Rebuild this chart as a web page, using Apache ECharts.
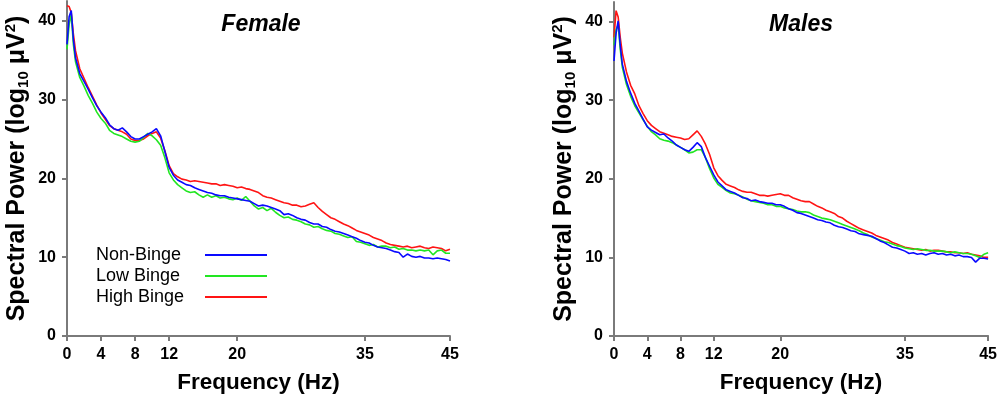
<!DOCTYPE html>
<html>
<head>
<meta charset="utf-8">
<script src="https://cdn.jsdelivr.net/npm/echarts@6/dist/echarts.min.js"></script>
<style>html,body{margin:0;padding:0;background:#fff;}#c{width:1000px;height:399px;}</style>
</head>
<body>
<div id="c"></div>
<script>
// Frequencies (Hz)
const freq = [0,0.25,0.5,0.75,1,1.5,2,2.5,3,3.5,4,4.5,5,5.5,6,6.5,7,7.5,8,8.5,9,9.5,10,10.5,11,11.5,12,12.5,13,13.5,14,14.5,15,15.5,16,16.5,17,17.5,18,18.5,19,19.5,20,20.5,21,21.5,22,22.5,23,23.5,24,24.5,25,25.5,26,26.5,27,27.5,28,28.5,29,29.5,30,30.5,31,31.5,32,32.5,33,33.5,34,34.5,35,35.5,36,36.5,37,37.5,38,38.5,39,39.5,40,40.5,41,41.5,42,42.5,43,43.5,44,44.5,45];

const seriesNames = ['Non-Binge','Low Binge','High Binge'];
const panelTitles = ['Female','Males'];
const xTicks = [0,4,8,12,20,35,45];
const yTicks = [0,10,20,30,40];

// Female
const femaleNonBinge = [37.0,40.5,41.3,37.6,35.3,33.3,32.3,31.3,30.2,29.2,28.4,27.7,26.8,26.3,26.1,26.4,25.9,25.3,25.0,25.0,25.3,25.6,25.9,26.3,25.4,23.4,21.4,20.4,19.8,19.5,19.2,19.1,18.8,18.6,18.4,18.2,18.1,17.9,17.8,17.8,17.6,17.5,17.4,17.3,17.2,17.1,16.8,16.5,16.6,16.5,16.3,16.1,15.9,15.4,15.5,15.3,15.0,14.8,14.7,14.4,14.2,14.2,13.9,13.8,13.5,13.3,13.2,13.0,12.8,12.6,12.4,12.1,11.9,11.8,11.5,11.3,11.2,11.1,10.9,10.7,10.6,10.0,10.4,10.1,10.0,10.1,9.9,9.9,9.8,9.9,9.8,9.7,9.5];
const femaleLowBinge = [36.4,39.5,40.8,37.0,34.8,32.8,31.7,30.5,29.5,28.4,27.6,27.0,26.1,25.7,25.5,25.3,25.0,24.7,24.6,24.7,25.2,25.7,25.4,24.9,24.2,22.6,20.7,19.8,19.2,18.8,18.4,18.2,18.3,17.9,17.6,17.9,17.6,17.8,17.5,17.6,17.4,17.3,17.5,17.2,17.7,17.1,16.5,16.1,16.3,15.9,16.2,15.7,15.3,15.0,15.1,14.8,14.7,14.5,14.2,14.1,13.8,13.9,13.6,13.4,13.3,13.0,12.9,12.7,12.5,12.6,12.0,11.9,11.7,11.5,11.6,11.3,11.4,11.4,11.2,11.3,11.0,11.1,10.9,10.9,10.8,10.9,10.8,10.9,10.3,10.8,10.9,10.5,10.5];
const femaleHighBinge = [41.9,41.8,41.0,38.3,36.2,33.9,32.7,31.5,30.4,29.3,28.3,27.5,26.7,26.3,26.1,25.9,25.6,25.0,24.8,24.8,25.0,25.4,25.7,25.9,25.1,23.5,21.6,20.6,20.2,19.9,19.8,19.6,19.7,19.6,19.5,19.4,19.3,19.3,19.1,19.2,19.1,19.0,18.8,18.9,18.7,18.6,18.4,18.2,17.8,17.6,17.5,17.3,17.1,16.9,16.8,16.6,16.6,16.4,16.5,16.7,16.9,16.3,15.8,15.4,15.0,14.8,14.5,14.2,14.0,13.7,13.4,13.2,13.0,12.8,12.5,12.3,12.1,11.8,11.6,11.5,11.4,11.3,11.4,11.2,11.3,11.4,11.2,11.1,11.3,11.2,11.1,10.8,11.0];

// Males
const maleNonBinge = [35.0,38.5,40.1,37.0,34.6,32.4,30.9,29.6,28.6,27.6,26.6,26.2,25.9,25.6,25.7,25.2,24.8,24.3,24.0,23.7,23.5,24.0,24.6,24.1,22.7,21.6,20.5,19.6,19.1,18.6,18.4,18.2,17.9,17.6,17.5,17.2,17.3,17.1,17.0,16.9,16.9,16.7,16.7,16.5,16.2,16.0,15.7,15.6,15.4,15.2,15.0,14.8,14.7,14.5,14.4,14.1,13.9,13.8,13.6,13.4,13.3,13.0,12.9,12.8,12.7,12.4,12.1,11.9,11.6,11.3,11.2,11.0,10.8,10.5,10.6,10.4,10.5,10.3,10.5,10.6,10.4,10.5,10.3,10.4,10.2,10.3,10.1,10.1,10.0,9.4,9.9,9.9,9.8];
const maleLowBinge = [37.0,39.0,39.6,36.5,34.2,32.0,30.5,29.3,28.4,27.5,26.7,26.0,25.6,25.1,24.9,24.8,24.6,24.3,24.0,23.7,23.3,23.4,23.7,23.7,22.7,21.3,20.1,19.3,18.9,18.5,18.2,18.1,17.9,17.7,17.4,17.2,17.1,17.0,16.9,16.7,16.7,16.5,16.5,16.3,16.2,16.1,15.9,15.8,15.8,15.7,15.4,15.2,15.0,14.9,14.8,14.6,14.4,14.2,14.0,13.8,13.6,13.4,13.1,12.9,12.6,12.4,12.2,12.0,11.9,11.7,11.5,11.4,11.2,11.1,11.0,11.1,11.0,10.9,10.9,10.8,10.8,10.8,10.7,10.6,10.7,10.6,10.5,10.5,10.4,10.2,10.0,10.4,10.6];
const maleHighBinge = [38.0,41.4,40.6,38.0,36.0,33.6,31.9,30.8,29.3,28.3,27.4,26.8,26.4,26.0,25.8,25.6,25.4,25.3,25.2,25.0,25.1,25.6,26.1,25.4,24.4,23.1,21.4,20.4,19.8,19.3,19.1,18.9,18.6,18.4,18.3,18.3,18.1,17.9,17.9,17.8,17.9,18.0,18.1,17.9,17.9,17.6,17.4,17.2,17.1,17.1,16.8,16.5,16.3,16.0,15.8,15.6,15.2,15.0,14.6,14.3,14.0,13.7,13.5,13.3,13.1,12.8,12.6,12.4,12.2,11.9,11.7,11.5,11.3,11.2,11.1,11.0,10.9,11.0,10.8,10.9,10.9,10.8,10.7,10.7,10.6,10.6,10.5,10.6,10.4,10.3,10.2,10.0,10.0];

const colors = ['#0a0aff', '#22e622', '#ff1414'];
const FONT = "'Liberation Sans', Arial, sans-serif";
const axisGray = '#7a7a7a';

function pairs(arr) { return freq.map((f, i) => [f, arr[i]]); }

function xAxisCfg(gi) {
  return {
    gridIndex: gi, type: 'value', min: 0, max: 45,
    name: 'Frequency (Hz)', nameLocation: 'middle', nameGap: 35,
    nameTextStyle: { fontFamily: FONT, fontWeight: 'bold', fontSize: 22.5, color: '#000' },
    axisLine: { show: true, lineStyle: { color: axisGray, width: 2 } },
    axisTick: { show: true, length: 5, inside: false, customValues: xTicks, lineStyle: { color: axisGray, width: 2 } },
    axisLabel: { customValues: xTicks, margin: 11, fontFamily: FONT, fontWeight: 'bold', fontSize: 16, color: '#000' },
    splitLine: { show: false }
  };
}
function yAxisCfg(gi) {
  return {
    gridIndex: gi, type: 'value', min: 0, max: 42.5,
    name: '{a|Spectral Power (log}{s|10}{a| μV}{p|2}{a|)}',
    nameLocation: 'middle', nameGap: 36, nameRotate: 90,
    nameTextStyle: {
      fontFamily: FONT, fontWeight: 'bold', fontSize: 25, color: '#000', lineHeight: 28,
      rich: {
        a: { fontFamily: FONT, fontWeight: 'bold', fontSize: 25, color: '#000' },
        s: { fontFamily: FONT, fontWeight: 'bold', fontSize: 15, color: '#000', verticalAlign: 'bottom', lineHeight: 28 },
        p: { fontFamily: FONT, fontWeight: 'bold', fontSize: 15, color: '#000', verticalAlign: 'top', lineHeight: 28 }
      }
    },
    axisLine: { show: true, lineStyle: { color: axisGray, width: 2 } },
    axisTick: { show: true, length: 5, inside: false, customValues: yTicks, lineStyle: { color: axisGray, width: 2 } },
    axisLabel: { customValues: yTicks, margin: 11, fontFamily: FONT, fontWeight: 'bold', fontSize: 16, color: '#000' },
    splitLine: { show: false }
  };
}
function lineSeries(name, data, gi, ci) {
  return {
    name: name, type: 'line', xAxisIndex: gi, yAxisIndex: gi,
    data: pairs(data), showSymbol: false, symbol: 'none',
    lineStyle: { color: colors[ci], width: 1.6 }, itemStyle: { color: colors[ci] },
    z: 3 - ci
  };
}

const chart = echarts.init(document.getElementById('c'), null, { renderer: 'canvas' });
chart.setOption({
  animation: false,
  backgroundColor: '#fff',
  title: [
    { text: panelTitles[0], left: 256, top: 8, textAlign: 'center',
      textStyle: { fontFamily: FONT, fontWeight: 'bold', fontStyle: 'italic', fontSize: 23, color: '#000' } },
    { text: panelTitles[1], left: 796, top: 8, textAlign: 'center',
      textStyle: { fontFamily: FONT, fontWeight: 'bold', fontStyle: 'italic', fontSize: 23, color: '#000' } }
  ],
  legend: {
    data: seriesNames, orient: 'vertical', left: 96, top: 246, align: 'right', padding: 0,
    icon: 'rect', itemWidth: 62, itemHeight: 2, itemGap: 3,
    formatter: '{a|{name}}',
    textStyle: { fontFamily: FONT, fontSize: 18, color: '#000',
      rich: { a: { fontFamily: FONT, fontSize: 18, color: '#000', width: 104, align: 'left', lineHeight: 19 } } },
    selectedMode: false
  },
  grid: [
    { left: 67, top: 1, width: 383, height: 336 },
    { left: 614, top: 2, width: 375, height: 337 }
  ],
  xAxis: [xAxisCfg(0), xAxisCfg(1)],
  yAxis: [yAxisCfg(0), yAxisCfg(1)],
  series: [
    lineSeries(seriesNames[0], femaleNonBinge, 0, 0),
    lineSeries(seriesNames[1], femaleLowBinge, 0, 1),
    lineSeries(seriesNames[2], femaleHighBinge, 0, 2),
    lineSeries(seriesNames[0], maleNonBinge, 1, 0),
    lineSeries(seriesNames[1], maleLowBinge, 1, 1),
    lineSeries(seriesNames[2], maleHighBinge, 1, 2)
  ]
});
</script>
</body>
</html>
